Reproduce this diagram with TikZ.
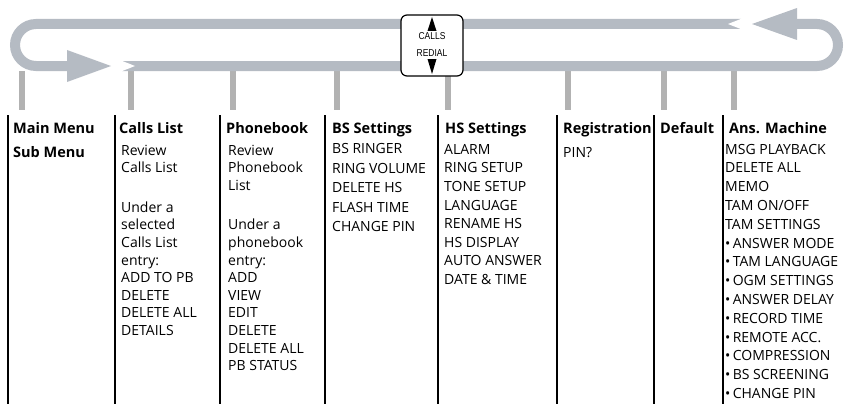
\documentclass[tikz,border=0pt]{standalone}
\usepackage{fontspec}
\setmainfont{Open Sans}
\newfontfamily\keyfont{Liberation Sans}
\definecolor{loopgray}{RGB}{181,187,195}
\definecolor{tickgray}{RGB}{178,178,178}
\tikzset{
  head/.style={anchor=base west, inner sep=0pt, font=\bfseries\fontsize{14.5}{17}\selectfont},
  entries/.style={anchor=north west, inner sep=0pt, align=left,
    font=\fontsize{14}{17.6}\selectfont, execute at begin node=\strut},
  band/.style={loopgray, line width=10pt},
  tick/.style={tickgray, line width=6pt},
  sep/.style={line width=1.6pt},
}
\begin{document}
\begin{tikzpicture}[x=1pt,y=-1pt]
  \useasboundingbox (0,0) rectangle (850,404);

  \foreach \x in {22,131,233,337,448,568,664,734}
    \draw[tick] (\x,71) -- (\x,110);

  \draw[band, rounded corners=21pt] (741,24) -- (15,24) -- (15,66) -- (67,66);
  \fill[loopgray] (67,50) -- (111,66) -- (67,82) -- cycle;
  \draw[band, rounded corners=21pt] (122,66) -- (838,66) -- (838,24) -- (797,24);
  \fill[loopgray] (797,8) -- (752,24) -- (797,40) -- cycle;
  \fill[white] (121,60.5) -- (135,66) -- (121,71.5) -- cycle;
  \fill[white] (742,18.5) -- (728,24) -- (742,29.5) -- cycle;

  \node[draw, line width=1.2pt, fill=white, rounded corners=6pt,
        minimum width=62pt, minimum height=61pt] (callsbox) at (432,45.5) {};
  \fill (427.5,31) -- (432,17) -- (436.5,31) -- cycle;
  \fill (427.5,59) -- (432,74) -- (436.5,59) -- cycle;
  \node[font=\keyfont\fontsize{10}{12}\selectfont, xscale=0.85, inner sep=0pt] (callstext) at (432,36.5) {CALLS};
  \node[font=\keyfont\fontsize{10}{12}\selectfont, xscale=0.85, inner sep=0pt] (redialtext) at (432,53) {REDIAL};

  \foreach \x in {8,115,220,325,438,557,654,723}
    \draw[sep] (\x,115) -- (\x,404);

  \node[head] (mainmenu) at (13,133) {Main Menu};
  \node[head] (callslist) at (119,133) {Calls List};
  \node[head] (phonebook) at (226,133) {Phonebook};
  \node[head] (bsset) at (332,133) {BS Settings};
  \node[head] (hsset) at (445,133) {HS Settings};
  \node[head] (registration) at (563,133) {Registration};
  \node[head] (default) at (660,133) {Default};
  \node[head] (ansmachine) at (729,133) {Ans. Machine};

  \node[head] (submenu) at (13,157) {Sub Menu};
  \node[entries] (callsentries) at (121,144.7)
    {Review\\Calls List\\[22pt]Under a\\selected\\Calls List\\entry:\\ADD TO PB\\DELETE\\DELETE ALL\\DETAILS};
  \node[entries] (phoneentries) at (228,144.7)
    {Review\\Phonebook\\List\\[22pt]Under a\\phonebook\\entry:\\ADD\\VIEW\\EDIT\\DELETE\\DELETE ALL\\PB STATUS};
  \node[entries, font=\fontsize{14}{19.5}\selectfont] (bsentries) at (332,143.4)
    {BS RINGER\\RING VOLUME\\DELETE HS\\FLASH TIME\\CHANGE PIN};
  \node[entries, font=\fontsize{14}{18.6}\selectfont] (hsentries) at (444,144)
    {ALARM\\RING SETUP\\TONE SETUP\\LANGUAGE\\RENAME HS\\HS DISPLAY\\AUTO ANSWER\\DATE \& TIME};
  \node[entries] (regentries) at (563,144.7) {PIN?};
  \node[entries, font=\fontsize{14}{18.8}\selectfont] (ansentries) at (725,143.8)
    {MSG PLAYBACK\\DELETE ALL\\MEMO\\TAM ON/OFF\\TAM SETTINGS\\%
     \textbullet\,ANSWER MODE\\\textbullet\,TAM LANGUAGE\\\textbullet\,OGM SETTINGS\\%
     \textbullet\,ANSWER DELAY\\\textbullet\,RECORD TIME\\\textbullet\,REMOTE ACC.\\%
     \textbullet\,COMPRESSION\\\textbullet\,BS SCREENING\\\textbullet\,CHANGE PIN};
\end{tikzpicture}
\end{document}
